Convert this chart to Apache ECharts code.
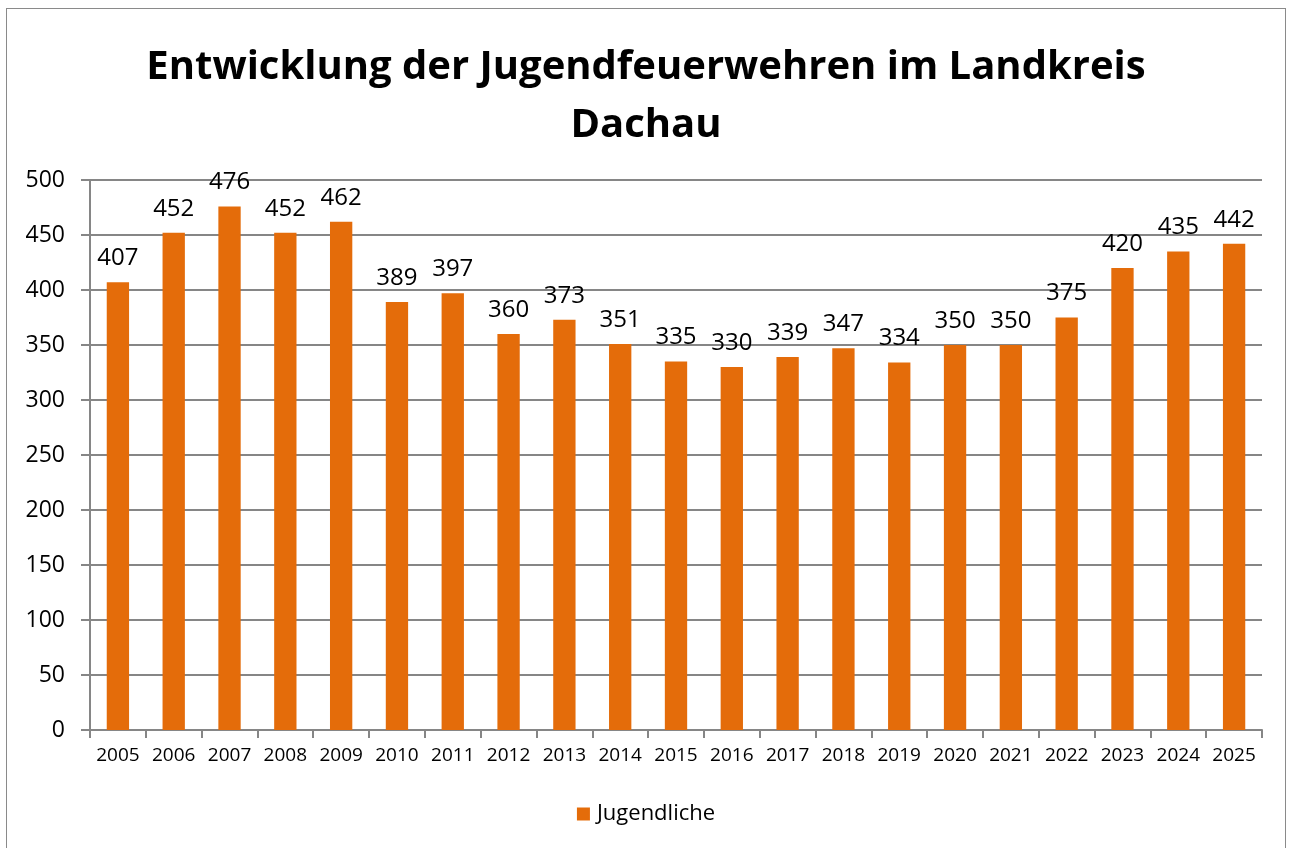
<!DOCTYPE html>
<html>
<head>
<meta charset="utf-8">
<script src="https://cdn.jsdelivr.net/npm/echarts@6/dist/echarts.min.js"></script>
<style>
  html, body { margin: 0; padding: 0; background: #fff; }
  #frame {
    position: absolute; left: 6px; top: 8px; width: 1280px; height: 860px;
    border: 1px solid #8a8a8a; box-sizing: border-box;
  }
  #main { position: absolute; left: 0; top: 0; width: 1292px; height: 848px; }
</style>
</head>
<body>
<div id="frame"></div>
<div id="main"></div>
<script>
// Jahre
var years = ["2005", "2006", "2007", "2008", "2009", "2010", "2011", "2012", "2013", "2014",
  "2015", "2016", "2017", "2018", "2019", "2020", "2021", "2022", "2023", "2024", "2025"];
// Anzahl Jugendliche
var jugendliche = [407, 452, 476, 452, 462, 389, 397, 360, 373, 351,
  335, 330, 339, 347, 334, 350, 350, 375, 420, 435, 442];
var seriesName = "Jugendliche";
var titleText = "Entwicklung der Jugendfeuerwehren im Landkreis\nDachau";

var font = "'Open Sans', 'Noto Sans', sans-serif";
var myChart = echarts.init(document.getElementById("main"));

var option = {
  animation: false,
  textStyle: { fontFamily: font },
  title: {
    text: titleText,
    left: "center",
    top: 34,
    textStyle: {
      fontFamily: font,
      fontSize: 40,
      fontWeight: "bold",
      color: "#000",
      lineHeight: 58
    }
  },
  legend: {
    data: [seriesName],
    bottom: 18,
    left: "center",
    icon: "rect",
    itemWidth: 13,
    itemHeight: 13,
    itemGap: 4,
    textStyle: { fontFamily: font, fontSize: 22, color: "#000", padding: [0, 0, 0, 2] }
  },
  grid: { left: 90, right: 30, top: 180, bottom: 118 },
  xAxis: {
    type: "category",
    data: years,
    axisLine: { lineStyle: { color: "#868686", width: 2 } },
    axisTick: { show: true, length: 8, lineStyle: { color: "#868686", width: 2 } },
    axisLabel: { color: "#000", fontSize: 19, margin: 16, interval: 0 }
  },
  yAxis: {
    type: "value",
    min: 0,
    max: 500,
    interval: 50,
    axisLine: { show: true, lineStyle: { color: "#868686", width: 2 } },
    axisTick: { show: true, length: 9, lineStyle: { color: "#868686", width: 2 } },
    axisLabel: { color: "#000", fontSize: 23, margin: 25 },
    splitLine: { lineStyle: { color: "#868686", width: 2 } }
  },
  series: [
    {
      name: seriesName,
      type: "bar",
      data: jugendliche,
      barWidth: "40%",
      itemStyle: { color: "#E46C0A" },
      label: {
        show: true,
        position: "top",
        distance: 12,
        color: "#000",
        fontSize: 24,
        fontFamily: font
      }
    }
  ]
};

myChart.setOption(option);
</script>
</body>
</html>
